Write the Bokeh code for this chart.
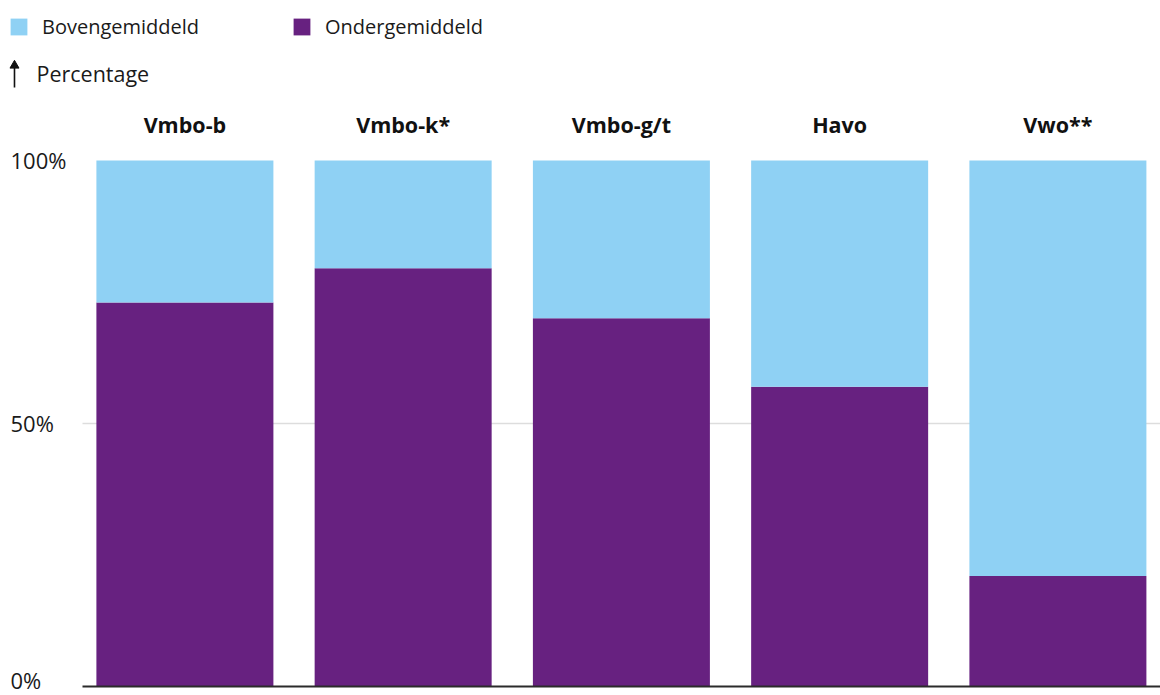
from bokeh.plotting import figure
from bokeh.models import ColumnDataSource, Range1d, Legend, LegendItem
from bokeh.core.properties import value
from bokeh.embed import file_html
from bokeh.resources import INLINE

categories = ["Vmbo-b", "Vmbo-k*", "Vmbo-g/t", "Havo", "Vwo**"]
ondergemiddeld = [73, 79.5, 70, 57, 21]
bovengemiddeld = [27, 20.5, 30, 43, 79]
series = ["Ondergemiddeld", "Bovengemiddeld"]
legend_order = ["Bovengemiddeld", "Ondergemiddeld"]
y_ticks = [0, 50, 100]
y_tick_labels = ["0%", "50%", "100%"]
grid_values = [50]
axis_title = "Percentage"

COLORS = {"Ondergemiddeld": "#672180", "Bovengemiddeld": "#8fd1f4"}
FONT = "Open Sans"

# layout (frame extent in data units)
X0, X1 = -0.8449, 4.4701
Y0, Y1 = -1.711, 130.42
PLOT_X0 = -0.4692             # left edge of plotting area (grid / baseline start)
LABEL_X = -0.7991             # left edge of y tick labels
TOP = max(y_ticks)

xs = list(range(len(categories)))
source = ColumnDataSource(dict(x=xs, cat=categories,
                               Ondergemiddeld=ondergemiddeld,
                               Bovengemiddeld=bovengemiddeld))

p = figure(width=1160, height=695, output_backend="svg", toolbar_location=None,
           x_range=Range1d(X0, X1), y_range=Range1d(Y0, Y1),
           x_axis_location=None, y_axis_location=None,
           min_border_left=0, min_border_right=0, min_border_top=0,
           min_border_bottom=0)
p.outline_line_color = None
p.background_fill_color = "white"
p.border_fill_color = "white"
p.xgrid.visible = False
p.ygrid.visible = False

# gridline at 50%
p.segment(x0=[PLOT_X0] * len(grid_values), y0=grid_values,
          x1=[X1] * len(grid_values), y1=grid_values,
          line_color="#dddddd", line_width=1.5)

renderers = p.vbar_stack(series, x="x", width=0.811, source=source,
                         color=[COLORS[s] for s in series], line_color=None)
rmap = dict(zip(series, renderers))

# baseline
p.segment(x0=[PLOT_X0], y0=[min(y_ticks)], x1=[X1], y1=[min(y_ticks)],
          line_color="#2b2b2b", line_width=2)

# y tick labels (lowest one nudged up so it stays inside the picture)
tick_src = ColumnDataSource(dict(x=[LABEL_X] * len(y_ticks), y=y_ticks, text=y_tick_labels,
                                 dy=[-7 if t == min(y_ticks) else -1 for t in y_ticks]))
p.text(x="x", y="y", text="text", y_offset="dy", source=tick_src,
       text_align="left", text_baseline="middle",
       text_font=value(FONT), text_font_size="22px", text_color="#1a1a1a")

# category labels above bars
p.text(x=xs, y=[TOP] * len(xs), text=categories, y_offset=-36,
       text_align="center", text_baseline="middle",
       text_font=value(FONT), text_font_size="21.5px", text_font_style="bold",
       text_color="#111111")

# legend
legend = Legend(items=[LegendItem(label=s, renderers=[rmap[s]]) for s in legend_order],
                orientation="horizontal", location=(8, 655))
legend.glyph_width = 21
legend.glyph_height = 21
legend.label_standoff = 13
legend.label_width = 229
legend.spacing = 20
legend.padding = 0
legend.margin = 0
legend.border_line_color = None
legend.background_fill_alpha = 0
legend.label_text_font = FONT
legend.label_text_font_size = "20px"
legend.label_text_color = "#1a1a1a"
p.add_layout(legend, "center")

# axis title with upward arrow
p.segment(x0=[-0.7808], y0=[113.88], x1=[-0.7808], y1=[117.7],
          line_color="#111111", line_width=1.6)
p.scatter(x=[-0.7808], y=[118.06], marker="triangle", size=9,
          fill_color="#111111", line_color="#111111")
p.text(x=[-0.6800], y=[116.63], text=[axis_title], text_baseline="middle",
       text_font=value(FONT), text_font_size="21.5px", text_color="#1a1a1a")

open("out.html", "w").write(file_html(p, INLINE))
